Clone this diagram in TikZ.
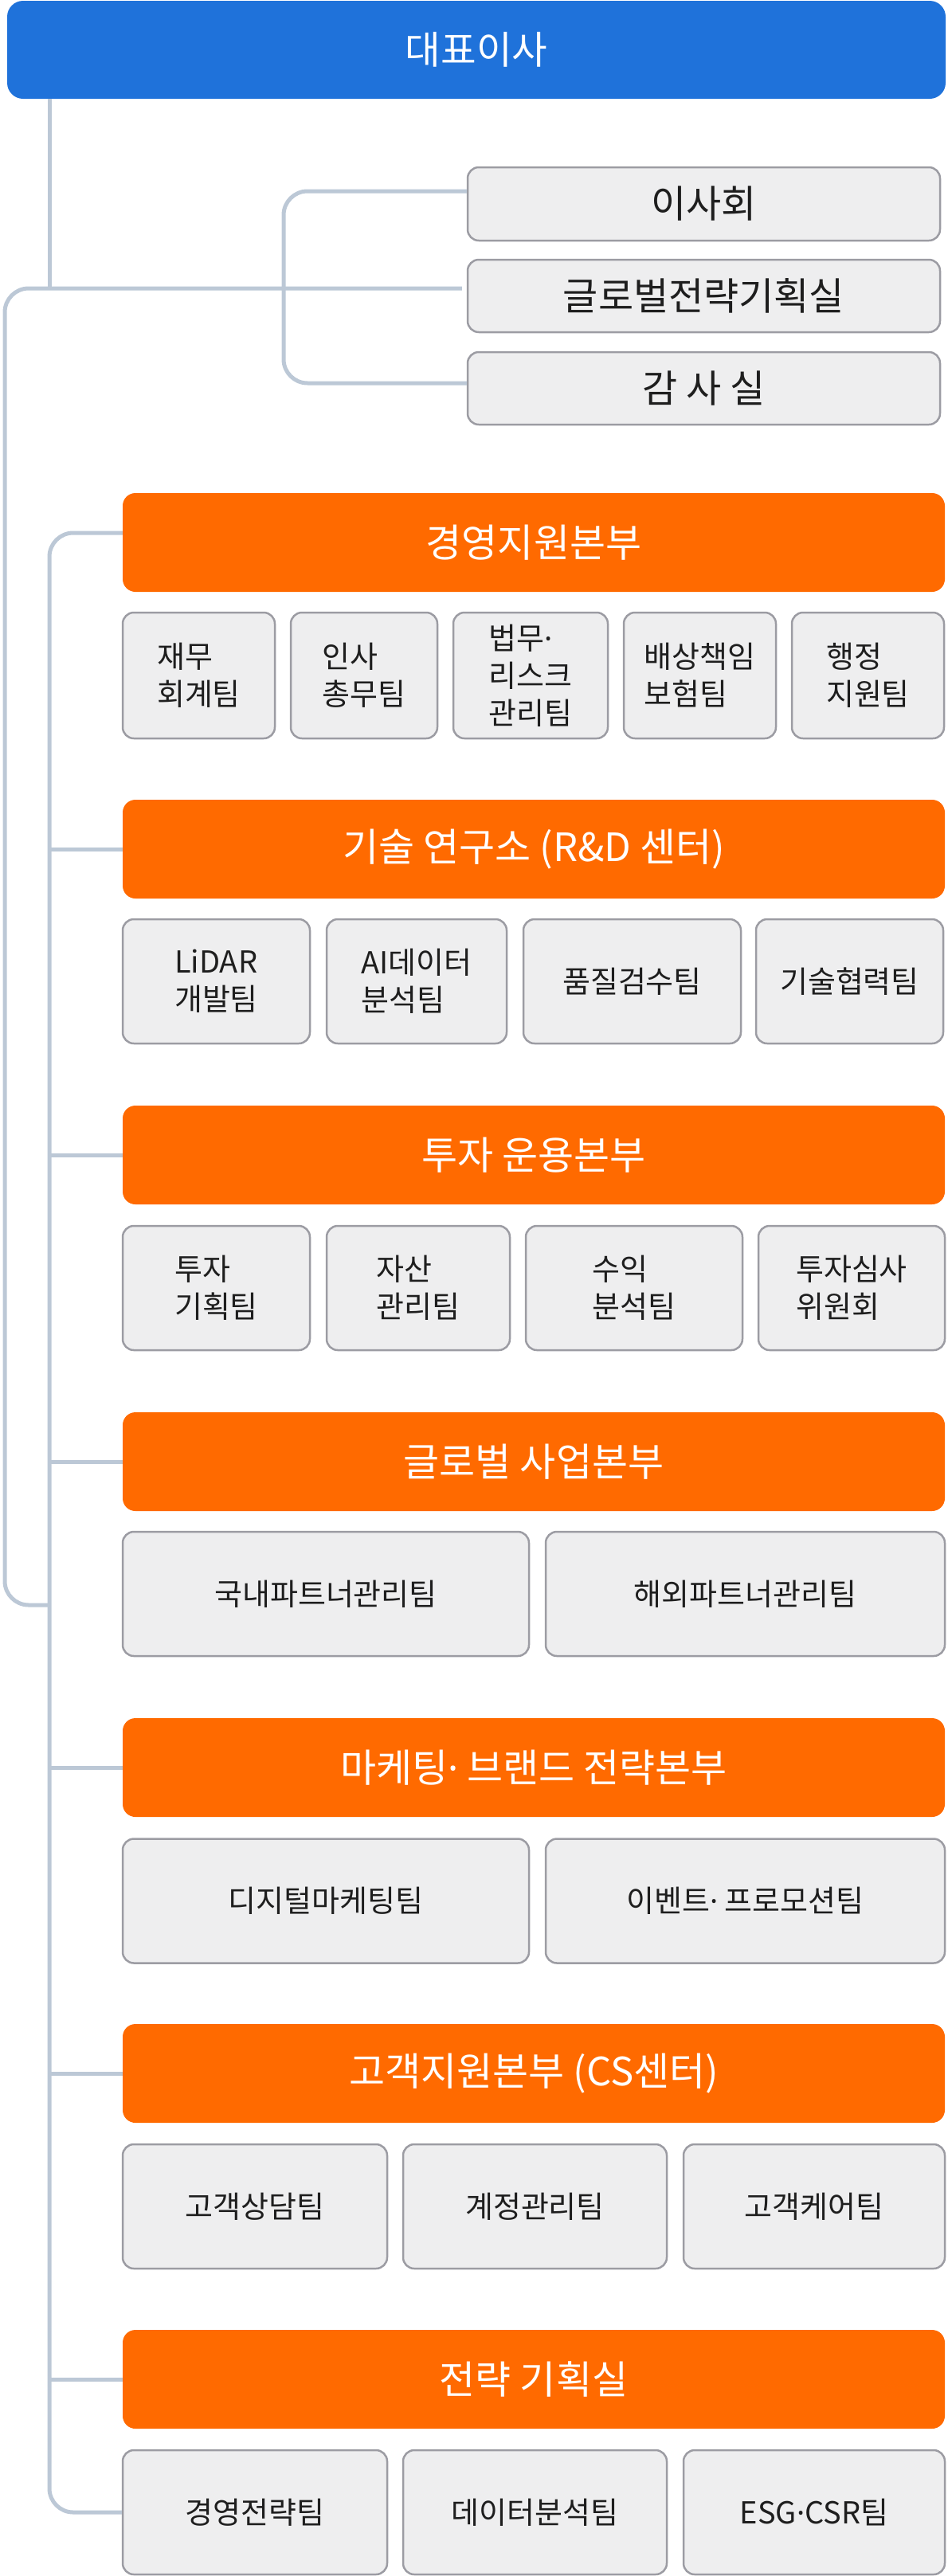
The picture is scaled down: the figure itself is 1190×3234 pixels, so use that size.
\documentclass[tikz,border=0pt]{standalone}
\usepackage{fontspec}
\setmainfont{Noto Sans CJK KR}
\newfontfamily\latinf{Noto Sans}
\newcommand{\mdot}{{\latinf ·}}
\definecolor{ceoblue}{HTML}{1F72DA}
\definecolor{headorange}{HTML}{FF6A00}
\definecolor{boxfill}{HTML}{EEEEEF}
\definecolor{boxline}{HTML}{9C9CA3}
\definecolor{linec}{HTML}{BCC8D6}
\definecolor{textc}{HTML}{1E1E1E}
\begin{document}
\begin{tikzpicture}[x=1pt,y=-1pt,
  conn/.style={draw=linec, line width=5pt, rounded corners=30pt},
  ceo/.style={fill=ceoblue, rounded corners=20pt, text=white, font=\fontsize{48.5}{56}\selectfont, inner sep=0pt},
  head/.style={fill=headorange, rounded corners=16pt, text=white, font=\fontsize{49}{56}\selectfont, minimum width=1032pt, minimum height=124pt, inner sep=0pt},
  team/.style={fill=boxfill, draw=boxline, line width=2.5pt, rounded corners=14pt, text=textc, font=\fontsize{38}{47}\selectfont, align=left, inner sep=0pt},
  side/.style={team, font=\fontsize{48}{56}\selectfont, minimum width=593pt},
]
\useasboundingbox (0,0) rectangle (1190,3234);

% top
\node[ceo, minimum width=1178pt, minimum height=123pt] (ceo) at (598,62.5) {대표이사};
\node[side, minimum height=92pt] (isa) at (883.5,256) {이사회};
\node[side, minimum height=91pt] (glob) at (883.5,371.5) {글로벌전략기획실};
\node[side, minimum height=91pt] (audit) at (883.5,487.5) {감 사 실};

% headers
\node[head] (h1) at (670,681) {경영지원본부};
\node[head] (h2) at (670,1066) {기술 연구소 (R\&D 센터)};
\node[head] (h3) at (670,1450) {투자 운용본부};
\node[head] (h4) at (670,1835) {글로벌 사업본부};
\node[head] (h5) at (670,2219) {마케팅\mdot{} 브랜드 전략본부};
\node[head] (h6) at (670,2603) {고객지원본부 (CS센터)};
\node[head] (h7) at (670,2987) {전략 기획실};

% row 1
\begin{scope}[team/.append style={minimum height=158pt}]
\node[team, minimum width=191pt] (r1a) at (249.5,848) {재무\\회계팀};
\node[team, minimum width=184pt] (r1b) at (457,848) {인사\\총무팀};
\node[team, minimum width=194pt] (r1c) at (666,848) {법무\mdot\\리스크\\관리팀};
\node[team, minimum width=191pt] (r1d) at (878.5,848) {배상책임\\보험팀};
\node[team, minimum width=191pt] (r1e) at (1089.5,848) {행정\\지원팀};
\end{scope}

\begin{scope}[team/.append style={minimum height=156pt}]
% row 2
\node[team, minimum width=235pt] (r2a) at (271.5,1232) {LiDAR\\개발팀};
\node[team, minimum width=226pt] (r2b) at (523,1232) {AI데이터\\분석팀};
\node[team, minimum width=273pt] (r2c) at (793.5,1232) {품질검수팀};
\node[team, minimum width=235pt] (r2d) at (1066.5,1232) {기술협력팀};
% row 3
\node[team, minimum width=235pt] (r3a) at (271.5,1617) {투자\\기획팀};
\node[team, minimum width=230pt] (r3b) at (525,1617) {자산\\관리팀};
\node[team, minimum width=272pt] (r3c) at (796,1617) {수익\\분석팀};
\node[team, minimum width=234pt] (r3d) at (1069,1617) {투자심사\\위원회};
% row 4
\node[team, minimum width=510pt] (r4a) at (409,2001) {국내파트너관리팀};
\node[team, minimum width=501pt] (r4b) at (935.5,2001) {해외파트너관리팀};
% row 5
\node[team, minimum width=510pt] (r5a) at (409,2386.5) {디지털마케팅팀};
\node[team, minimum width=501pt] (r5b) at (935.5,2386.5) {이벤트\mdot{} 프로모션팀};
% row 6
\node[team, minimum width=332pt] (r6a) at (320,2770) {고객상담팀};
\node[team, minimum width=331pt] (r6b) at (671.5,2770) {계정관리팀};
\node[team, minimum width=328pt] (r6c) at (1022,2770) {고객케어팀};
% row 7
\node[team, minimum width=332pt] (r7a) at (320,3154) {경영전략팀};
\node[team, minimum width=331pt] (r7b) at (671.5,3154) {데이터분석팀};
\node[team, minimum width=328pt] (r7c) at (1022,3154) {ESG\mdot{}CSR팀};
\end{scope}

% connector coordinates
\coordinate (tx) at (62,0);
\coordinate (lx) at (6,0);
\coordinate (hj) at (62,362);
\coordinate (bj) at (62,2015);
\coordinate (bt) at (356,240);
\coordinate (bb) at (356,481);
\coordinate (t1) at (62,669);
\coordinate (t2) at (62,3154);

\draw[conn] (ceo.south -| hj) -- (hj);
\draw[conn] ([xshift=-6pt,yshift=9.5pt]glob.west) -- (lx |- hj) -- (lx |- bj) -- (bj);
\draw[conn] ([yshift=16pt]isa.west) -- (bt) -- (bb) -- ([yshift=6.5pt]audit.west);
\draw[conn] ([yshift=12pt]h1.west) -- (t1) -- (t2) -- (r7a.west);
\foreach \h in {h2,h3,h4,h5,h6,h7}{
  \draw[conn] (tx |- \h.west) -- (\h.west);
}
\end{tikzpicture}
\end{document}
